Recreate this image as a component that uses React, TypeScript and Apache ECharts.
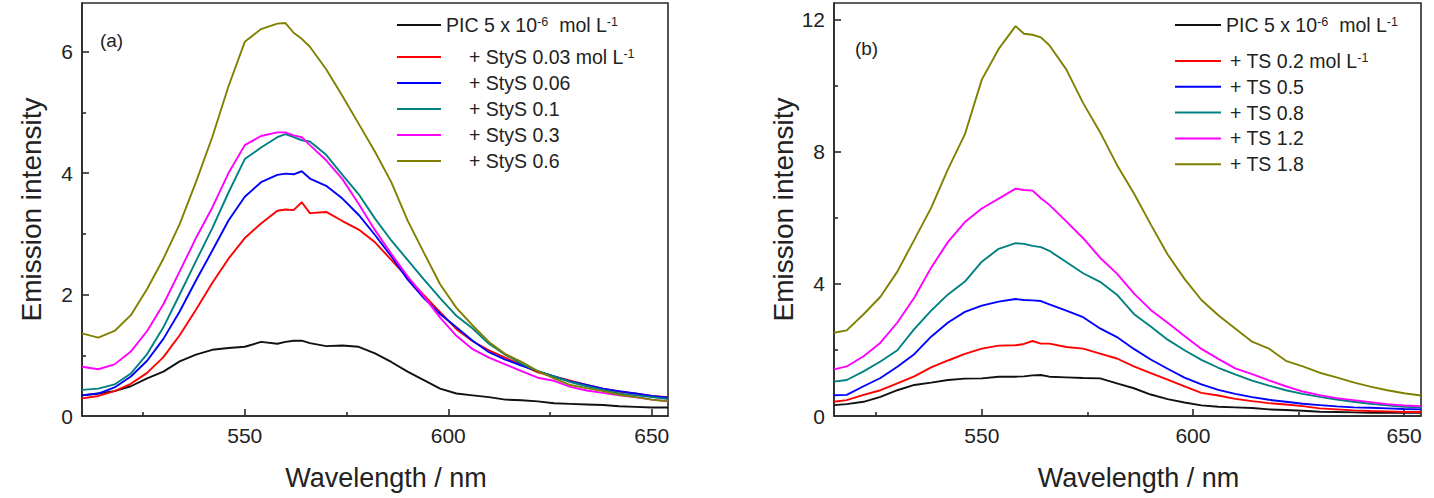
import React, { useEffect, useRef } from "react";
import * as echarts from "echarts";

// ---------- Panel (a) data ----------
const wavelengthA = [510, 514, 518, 522, 526, 530, 534, 538, 542, 546, 550, 554, 558, 560, 562, 564, 566, 570, 574, 578, 582, 586, 590, 594, 598, 602, 606, 610, 614, 618, 622, 626, 630, 634, 638, 642, 646, 650, 654];
const picA = [0.34, 0.37, 0.41, 0.49, 0.62, 0.73, 0.90, 1.01, 1.09, 1.12, 1.14, 1.22, 1.19, 1.22, 1.24, 1.24, 1.20, 1.15, 1.16, 1.14, 1.03, 0.89, 0.73, 0.59, 0.45, 0.37, 0.34, 0.31, 0.27, 0.26, 0.24, 0.21, 0.20, 0.19, 0.18, 0.16, 0.15, 0.14, 0.14];
const styS003 = [0.29, 0.33, 0.41, 0.53, 0.71, 0.97, 1.33, 1.75, 2.19, 2.59, 2.93, 3.17, 3.38, 3.40, 3.39, 3.52, 3.34, 3.36, 3.21, 3.07, 2.86, 2.57, 2.28, 1.99, 1.71, 1.43, 1.23, 1.08, 0.96, 0.84, 0.72, 0.65, 0.58, 0.51, 0.45, 0.40, 0.37, 0.33, 0.31];
const styS006 = [0.34, 0.37, 0.47, 0.65, 0.91, 1.27, 1.72, 2.23, 2.72, 3.22, 3.61, 3.85, 3.97, 3.99, 3.98, 4.03, 3.91, 3.79, 3.58, 3.31, 2.98, 2.63, 2.25, 1.94, 1.68, 1.46, 1.24, 1.05, 0.93, 0.83, 0.74, 0.65, 0.57, 0.51, 0.45, 0.41, 0.37, 0.33, 0.30];
const styS01 = [0.43, 0.45, 0.52, 0.70, 1.02, 1.46, 2.00, 2.55, 3.09, 3.68, 4.23, 4.42, 4.59, 4.64, 4.59, 4.54, 4.52, 4.30, 3.97, 3.65, 3.25, 2.89, 2.57, 2.25, 1.94, 1.65, 1.44, 1.19, 1.01, 0.86, 0.74, 0.65, 0.56, 0.49, 0.43, 0.37, 0.34, 0.31, 0.28];
const styS03 = [0.81, 0.77, 0.85, 1.06, 1.40, 1.84, 2.38, 2.93, 3.43, 4.00, 4.46, 4.61, 4.67, 4.67, 4.62, 4.59, 4.46, 4.21, 3.90, 3.49, 3.06, 2.67, 2.30, 1.97, 1.62, 1.32, 1.10, 0.96, 0.85, 0.74, 0.63, 0.58, 0.48, 0.42, 0.38, 0.34, 0.31, 0.27, 0.24];
const styS06 = [1.36, 1.29, 1.40, 1.66, 2.09, 2.59, 3.16, 3.85, 4.59, 5.43, 6.16, 6.37, 6.46, 6.47, 6.31, 6.21, 6.08, 5.71, 5.27, 4.81, 4.35, 3.85, 3.22, 2.69, 2.17, 1.78, 1.49, 1.22, 1.02, 0.89, 0.74, 0.62, 0.51, 0.46, 0.41, 0.35, 0.31, 0.27, 0.24];

// ---------- Panel (b) data ----------
const wavelengthB = [515, 518, 522, 526, 530, 534, 538, 542, 546, 550, 554, 558, 560, 562, 564, 566, 570, 574, 578, 582, 586, 590, 594, 598, 602, 606, 610, 614, 618, 622, 626, 630, 634, 638, 642, 646, 650, 654];
const picB = [0.33, 0.36, 0.43, 0.58, 0.78, 0.94, 1.01, 1.09, 1.13, 1.14, 1.19, 1.19, 1.20, 1.23, 1.24, 1.19, 1.17, 1.15, 1.14, 0.99, 0.84, 0.65, 0.51, 0.41, 0.32, 0.28, 0.26, 0.24, 0.20, 0.18, 0.16, 0.13, 0.12, 0.11, 0.10, 0.10, 0.10, 0.10];
const ts02 = [0.43, 0.48, 0.64, 0.78, 0.99, 1.20, 1.47, 1.68, 1.88, 2.04, 2.13, 2.14, 2.18, 2.27, 2.19, 2.19, 2.09, 2.04, 1.89, 1.74, 1.50, 1.30, 1.10, 0.90, 0.70, 0.62, 0.52, 0.45, 0.39, 0.35, 0.30, 0.23, 0.20, 0.17, 0.15, 0.14, 0.12, 0.12];
const ts05 = [0.63, 0.64, 0.90, 1.15, 1.49, 1.87, 2.40, 2.83, 3.15, 3.34, 3.46, 3.54, 3.51, 3.50, 3.48, 3.38, 3.19, 2.99, 2.65, 2.39, 2.03, 1.71, 1.43, 1.16, 0.96, 0.79, 0.67, 0.57, 0.49, 0.43, 0.37, 0.33, 0.29, 0.26, 0.25, 0.23, 0.21, 0.20];
const ts08 = [1.04, 1.09, 1.35, 1.65, 1.99, 2.63, 3.19, 3.68, 4.07, 4.67, 5.06, 5.23, 5.21, 5.15, 5.11, 5.00, 4.66, 4.32, 4.06, 3.67, 3.09, 2.71, 2.31, 1.99, 1.70, 1.46, 1.26, 1.07, 0.92, 0.78, 0.67, 0.58, 0.50, 0.43, 0.37, 0.32, 0.28, 0.26];
const ts12 = [1.41, 1.50, 1.81, 2.22, 2.83, 3.58, 4.49, 5.27, 5.87, 6.28, 6.58, 6.88, 6.84, 6.82, 6.59, 6.39, 5.89, 5.38, 4.79, 4.31, 3.71, 3.21, 2.82, 2.42, 2.03, 1.73, 1.44, 1.27, 1.08, 0.90, 0.74, 0.63, 0.54, 0.48, 0.42, 0.36, 0.32, 0.30];
const ts18 = [2.52, 2.59, 3.08, 3.61, 4.37, 5.33, 6.30, 7.47, 8.53, 10.18, 11.11, 11.80, 11.57, 11.54, 11.46, 11.22, 10.49, 9.47, 8.59, 7.60, 6.74, 5.80, 4.89, 4.15, 3.51, 3.05, 2.65, 2.25, 2.04, 1.67, 1.50, 1.31, 1.17, 1.02, 0.89, 0.78, 0.69, 0.62];

// ---------- Labels ----------
const namesA = ["PIC (a)", "StyS 0.03", "StyS 0.06", "StyS 0.1", "StyS 0.3", "StyS 0.6"];
const namesB = ["PIC (b)", "TS 0.2", "TS 0.5", "TS 0.8", "TS 1.2", "TS 1.8"];
const seriesColors = ["#111111", "#ff0000", "#0000ff", "#008080", "#ff00ff", "#808000"];
const xLabelValues = [550, 600, 650];
const xMinorValues = [525, 575, 625];
const yLabelsA = [0, 2, 4, 6];
const yMinorA = [1, 3, 5];
const yLabelsB = [0, 4, 8, 12];
const yMinorB = [2, 6, 10];

const FONT = "'Liberation Sans', Arial, Helvetica, sans-serif";
const AX = "#2a2a2a";
const TXT = "#222222";

function zip(xs: number[], ys: number[]) {
  return xs.map((x, i) => [x, ys[i]]);
}

function buildOption() {
  const dataA = [picA, styS003, styS006, styS01, styS03, styS06];
  const dataB = [picB, ts02, ts05, ts08, ts12, ts18];

  const picLabel = "{t|PIC 5 x 10}{s|-6}{g| }{t|mol L}{s|-1}";
  const legendLabel: Record<string, string> = {
    "PIC (a)": picLabel,
    "StyS 0.03": "{i| }{t|+ StyS 0.03 mol L}{s|-1}",
    "StyS 0.06": "{i| }{t|+ StyS 0.06}",
    "StyS 0.1": "{i| }{t|+ StyS 0.1}",
    "StyS 0.3": "{i| }{t|+ StyS 0.3}",
    "StyS 0.6": "{i| }{t|+ StyS 0.6}",
    "PIC (b)": picLabel,
    "TS 0.2": "{j| }{t|+ TS 0.2 mol L}{s|-1}",
    "TS 0.5": "{j| }{t|+ TS 0.5}",
    "TS 0.8": "{j| }{t|+ TS 0.8}",
    "TS 1.2": "{j| }{t|+ TS 1.2}",
    "TS 1.8": "{j| }{t|+ TS 1.8}",
  };

  const legendText = {
    color: TXT,
    fontFamily: FONT,
    fontSize: 19,
    lineHeight: 20,
    rich: {
      t: { fontSize: 19.5, lineHeight: 20, color: TXT, fontFamily: FONT },
      s: { fontSize: 12.5, lineHeight: 9, verticalAlign: "top", color: TXT, fontFamily: FONT },
      g: { width: 11, fontSize: 19, lineHeight: 20 },
      i: { width: 23, fontSize: 19, lineHeight: 20 },
      j: { width: 4, fontSize: 19, lineHeight: 20 },
    },
  };

  const mkLegend = (names: string[], left: number, top: number, gap: number, w: number) => ({
    data: names,
    left,
    top,
    orient: "vertical",
    padding: 0,
    itemGap: gap,
    itemWidth: w,
    itemHeight: 2,
    icon: "rect",
    selectedMode: false,
    formatter: (n: string) => legendLabel[n],
    textStyle: legendText,
  });

  const mainX = (gi: number, min: number, max: number) => ({
    type: "value",
    gridIndex: gi,
    min,
    max,
    position: "bottom",
    axisLine: { show: true, lineStyle: { color: AX, width: 1.6 } },
    axisTick: { show: true, inside: true, length: 7, customValues: xLabelValues, lineStyle: { color: AX, width: 1.6 } },
    axisLabel: { customValues: xLabelValues, margin: 9, fontSize: 21, color: TXT, fontFamily: FONT },
    splitLine: { show: false },
    name: "Wavelength / nm",
    nameLocation: "middle",
    nameGap: 48,
    nameTextStyle: { fontSize: 27, color: TXT, fontFamily: FONT, padding: [0, 0, 0, 22] },
  });
  const minorX = (gi: number, min: number, max: number) => ({
    type: "value",
    gridIndex: gi,
    min,
    max,
    position: "bottom",
    axisLine: { show: false },
    axisTick: { show: true, inside: true, length: 4, customValues: xMinorValues, lineStyle: { color: AX, width: 1.6 } },
    axisLabel: { show: false },
    splitLine: { show: false },
  });
  const mainY = (gi: number, max: number, labels: number[]) => ({
    type: "value",
    gridIndex: gi,
    min: 0,
    max,
    position: "left",
    axisLine: { show: true, lineStyle: { color: AX, width: 1.6 } },
    axisTick: { show: true, inside: true, length: 7, customValues: labels.slice(1), lineStyle: { color: AX, width: 1.6 } },
    axisLabel: { customValues: labels, margin: 9, fontSize: 21, color: TXT, fontFamily: FONT },
    splitLine: { show: false },
    name: "Emission intensity",
    nameLocation: "middle",
    nameGap: 37,
    nameTextStyle: { fontSize: 28, color: TXT, fontFamily: FONT },
  });
  const minorY = (gi: number, max: number, minors: number[]) => ({
    type: "value",
    gridIndex: gi,
    min: 0,
    max,
    position: "left",
    axisLine: { show: false },
    axisTick: { show: true, inside: true, length: 4, customValues: minors, lineStyle: { color: AX, width: 1.6 } },
    axisLabel: { show: false },
    splitLine: { show: false },
  });

  const series: any[] = [];
  namesA.forEach((n, i) => {
    series.push({
      type: "line",
      name: n,
      xAxisIndex: 0,
      yAxisIndex: 0,
      data: zip(wavelengthA, dataA[i]),
      symbol: "none",
      color: seriesColors[i],
      lineStyle: { width: 1.9, color: seriesColors[i] },
      z: 2 + i,
    });
  });
  namesB.forEach((n, i) => {
    series.push({
      type: "line",
      name: n,
      xAxisIndex: 2,
      yAxisIndex: 2,
      data: zip(wavelengthB, dataB[i]),
      symbol: "none",
      color: seriesColors[i],
      lineStyle: { width: 1.9, color: seriesColors[i] },
      z: 2 + i,
    });
  });

  return {
    animation: false,
    backgroundColor: "#ffffff",
    grid: [
      { left: 82, top: 3, width: 586, height: 413, show: true, borderColor: AX, borderWidth: 1.6, backgroundColor: "transparent" },
      { left: 834, top: 3, width: 587, height: 413, show: true, borderColor: AX, borderWidth: 1.6, backgroundColor: "transparent" },
    ],
    xAxis: [mainX(0, 510, 654), minorX(0, 510, 654), mainX(1, 515, 654), minorX(1, 515, 654)],
    yAxis: [mainY(0, 6.8, yLabelsA), minorY(0, 6.8, yMinorA), mainY(1, 12.5, yLabelsB), minorY(1, 12.5, yMinorB)],
    legend: [
      mkLegend([namesA[0]], 397, 15, 6, 44),
      mkLegend(namesA.slice(1), 397, 47, 6, 44),
      mkLegend([namesB[0]], 1175, 15, 5.8, 46),
      mkLegend(namesB.slice(1), 1175, 51, 5.8, 46),
    ],
    graphic: [
      { type: "text", x: 111.5, y: 40, style: { text: "(a)", align: "center", verticalAlign: "middle", fontSize: 19, fill: TXT, fontFamily: FONT } },
      { type: "text", x: 866.5, y: 48, style: { text: "(b)", align: "center", verticalAlign: "middle", fontSize: 19, fill: TXT, fontFamily: FONT } },
    ],
    series,
  };
}

export default function App() {
  const ref = useRef<HTMLDivElement>(null);
  useEffect(() => {
    if (!ref.current) return;
    const chart = echarts.init(ref.current, null, { renderer: "svg" });
    chart.setOption(buildOption() as any);
    return () => chart.dispose();
  }, []);
  return (
    <div
      ref={ref}
      style={{ position: "absolute", left: 0, top: 0, width: 1434, height: 498, background: "#fff" }}
    />
  );
}
